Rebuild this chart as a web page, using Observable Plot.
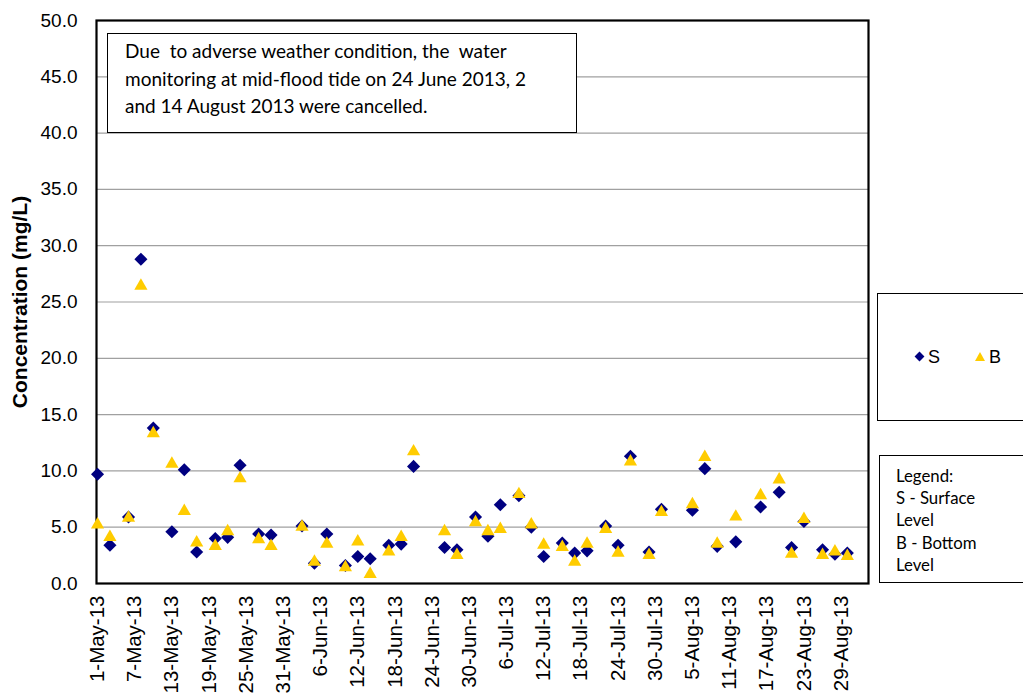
<!DOCTYPE html>
<html>
<head>
<meta charset="utf-8">
<script src="https://cdn.jsdelivr.net/npm/d3@7"></script>
<script src="https://cdn.jsdelivr.net/npm/@observablehq/plot@0.6"></script>
<style>
  html, body { margin: 0; padding: 0; background: #fff; overflow: hidden; }
  #wrap { position: relative; width: 1023px; height: 698px; overflow: hidden; }
  .box { position: absolute; background: #fff; border: 1.5px solid #000; box-sizing: border-box; }
  .note { font-family: Lato, "Open Sans", sans-serif; color: #000; }
  .ln { position: absolute; white-space: pre; }
  .leg { font-family: "Liberation Sans", Arial, sans-serif; color: #000; }
  .diam { position: absolute; width: 7px; height: 7px; background: #000080; transform: rotate(45deg); }
  .tri { position: absolute; width: 0; height: 0; border-left: 5.5px solid transparent; border-right: 5.5px solid transparent; border-bottom: 9.5px solid #FFCC00; }
</style>
</head>
<body>
<div id="wrap"></div>
<script>
// ---- data ----
const sampleDates = ["2013-05-01","2013-05-03","2013-05-06","2013-05-08","2013-05-10","2013-05-13","2013-05-15","2013-05-17","2013-05-20","2013-05-22","2013-05-24","2013-05-27","2013-05-29",
  "2013-06-03","2013-06-05","2013-06-07","2013-06-10","2013-06-12","2013-06-14","2013-06-17","2013-06-19","2013-06-21","2013-06-26","2013-06-28",
  "2013-07-01","2013-07-03","2013-07-05","2013-07-08","2013-07-10","2013-07-12","2013-07-15","2013-07-17","2013-07-19","2013-07-22","2013-07-24","2013-07-26","2013-07-29","2013-07-31",
  "2013-08-05","2013-08-07","2013-08-09","2013-08-12","2013-08-16","2013-08-19","2013-08-21","2013-08-23","2013-08-26","2013-08-28","2013-08-30"];
const surfaceS = [9.7,3.4,5.9,28.8,13.8,4.6,10.1,2.8,4.0,4.1,10.5,4.4,4.3,
  5.1,1.8,4.4,1.6,2.4,2.2,3.4,3.5,10.4,3.2,3.0,
  5.9,4.2,7.0,7.8,5.0,2.4,3.6,2.7,2.9,5.1,3.4,11.3,2.8,6.6,
  6.5,10.2,3.3,3.7,6.8,8.1,3.2,5.5,3.0,2.6,2.7];
const bottomB = [5.4,4.3,6.0,26.6,13.5,10.8,6.6,3.8,3.5,4.8,9.5,4.1,3.5,
  5.2,2.1,3.7,1.6,3.9,1.0,3.0,4.3,11.9,4.8,2.7,
  5.6,4.8,5.0,8.1,5.4,3.6,3.4,2.1,3.7,5.0,2.9,11.0,2.7,6.5,
  7.2,11.4,3.7,6.1,8.0,9.4,2.8,5.9,2.7,3.0,2.6];
const xTickLabels = ["1-May-13","7-May-13","13-May-13","19-May-13","25-May-13","31-May-13","6-Jun-13","12-Jun-13","18-Jun-13","24-Jun-13","30-Jun-13",
  "6-Jul-13","12-Jul-13","18-Jul-13","24-Jul-13","30-Jul-13","5-Aug-13","11-Aug-13","17-Aug-13","23-Aug-13","29-Aug-13"];
const yTicks = [0,5,10,15,20,25,30,35,40,45,50];
const yTitle = "Concentration (mg/L)";
const noteLines = ["Due  to adverse weather condition, the  water", "monitoring at mid-flood tide on 24 June 2013, 2", "and 14 August 2013 were cancelled."];
const legendLines = ["Legend:", "S - Surface", "Level", "B - Bottom", "Level"];
const seriesNames = ["S", "B"];

// ---- build ----
const parseISO = d3.utcParse("%Y-%m-%d");
const parseTick = d3.utcParse("%d-%b-%y");
const table = sampleDates.map((d, i) => ({date: parseISO(d), S: surfaceS[i], B: bottomB[i]}));
const tickDates = xTickLabels.map(parseTick);

const chart = Plot.plot({
  width: 1023, height: 698,
  marginLeft: 96, marginRight: 155, marginTop: 20, marginBottom: 115,
  style: {fontFamily: "'Liberation Sans', Arial, sans-serif", fontSize: "19px", color: "#000", background: "#fff", overflow: "visible"},
  x: {type: "utc", domain: [new Date("2013-04-30T20:00Z"), new Date("2013-09-02T10:00Z")]},
  y: {domain: [0, 50]},
  marks: [
    Plot.gridY(yTicks.filter(d => d > 0 && d < 50), {stroke: "#a0a0a0", strokeOpacity: 1, strokeWidth: 1.2}),
    Plot.axisX(tickDates, {tickFormat: (d, i) => xTickLabels[i], tickRotate: -90, tickSize: 0, tickPadding: 12, label: null, fontSize: 20.5}),
    Plot.axisY(yTicks, {tickFormat: d => d.toFixed(1), tickSize: 0, tickPadding: 19, label: null, fontSize: 19}),
    Plot.frame({stroke: "#000", strokeWidth: 2.2}),
    Plot.dot(table, {x: "date", y: "S", symbol: "diamond2", r: 5.9, fill: "#000080", stroke: null}),
    Plot.dot(table, {x: "date", y: "B", symbol: "triangle", r: 4.9, fill: "#FFCC00", stroke: null, dy: 2}),
    Plot.text([yTitle], {frameAnchor: "left", dx: -76, rotate: -90, fontWeight: "bold", fontSize: 21, textAnchor: "middle", lineAnchor: "middle"})
  ]
});
const wrap = document.getElementById("wrap");
chart.style.position = "absolute"; chart.style.left = "0"; chart.style.top = "0";
wrap.appendChild(chart);

function addBox(left, top, width, height) {
  const b = document.createElement("div");
  b.className = "box";
  Object.assign(b.style, {left: left + "px", top: top + "px", width: width + "px", height: height + "px"});
  wrap.appendChild(b);
  return b;
}
function addLine(cls, text, left, baseline, fontPx) {
  const s = document.createElement("div");
  s.className = "ln " + cls;
  s.textContent = text;
  Object.assign(s.style, {left: left + "px", fontSize: fontPx + "px", lineHeight: fontPx + "px", height: fontPx + "px"});
  s.style.top = (baseline - 0.86 * fontPx) + "px";
  wrap.appendChild(s);
  return s;
}
// note box
addBox(107, 33, 470, 100);
noteLines.forEach((t, i) => addLine("note", t, 125, 57.5 + i * 27.5, 19));

// legend box (series)
addBox(877, 292.5, 170, 128);
const d1 = document.createElement("div"); d1.className = "diam"; d1.style.left = "915.5px"; d1.style.top = "353px"; wrap.appendChild(d1);
addLine("leg", seriesNames[0], 928, 363.5, 18);
const t1 = document.createElement("div"); t1.className = "tri"; t1.style.left = "974.5px"; t1.style.top = "352px"; wrap.appendChild(t1);
addLine("leg", seriesNames[1], 989, 363.5, 18);

// legend text box
addBox(879, 455, 170, 128);
legendLines.forEach((t, i) => addLine("note", t, 896, 482 + i * 22.4, 16.8));
</script>
</body>
</html>
